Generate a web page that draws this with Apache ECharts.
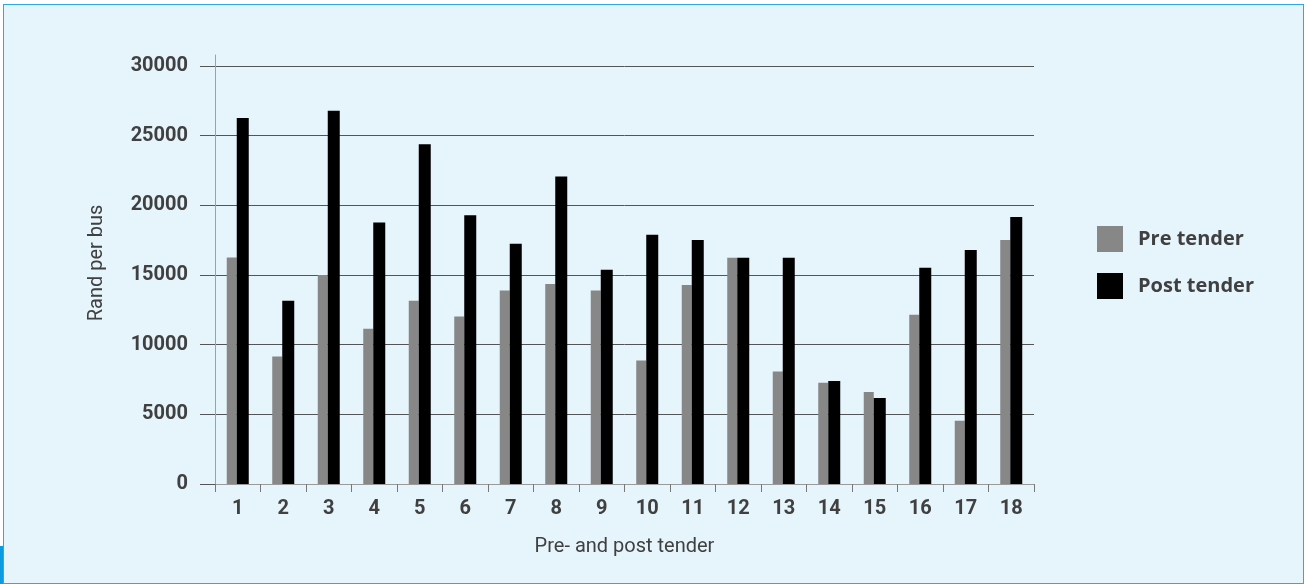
<!DOCTYPE html>
<html>
<head>
<meta charset="utf-8">
<title>Rand per bus, pre- and post tender</title>
<script src="https://cdn.jsdelivr.net/npm/echarts@6/dist/echarts.min.js"></script>
<style>
  html, body { margin: 0; padding: 0; background: #ffffff; }
  #frame {
    position: absolute; left: 3px; top: 4px;
    width: 1299px; height: 578px;
    border: 1px solid #2fa9e2;
    background: #e6f4fc;
  }
  #tab {
    position: absolute; left: 0; top: 546px;
    width: 3px; height: 38px;
    background: #0b9be0;
  }
  #chart { position: absolute; left: 0; top: 0; width: 1306px; height: 584px; }
</style>
</head>
<body>
<div id="frame"></div>
<div id="tab"></div>
<div id="chart"></div>
<script>
// Routes (contracts) numbered 1-18
const categories = ['1','2','3','4','5','6','7','8','9','10','11','12','13','14','15','16','17','18'];

// Rand per bus before the tender
const preTender = [16250, 9150, 15000, 11150, 13150, 12020, 13890, 14350, 13890, 8860, 14290, 16240, 8070, 7260, 6600, 12150, 4540, 17520];

// Rand per bus after the tender
const postTender = [26270, 13150, 26790, 18770, 24390, 19280, 17240, 22070, 15380, 17880, 17520, 16240, 16240, 7400, 6170, 15520, 16800, 19160];

const seriesNames = ['Pre tender', 'Post tender'];
const yTicks = { min: 0, max: 30000, step: 5000 };

const textColor = '#404040';
const labelFont = 'Roboto, "Liberation Sans", Arial, sans-serif';

const chart = echarts.init(document.getElementById('chart'), null, { renderer: 'canvas' });

chart.setOption({
  animation: false,
  backgroundColor: 'transparent',
  grid: [
    { left: 215, right: 272, top: 66, bottom: 100 },
    // taller twin grid that only carries the vertical axis line
    { left: 215, right: 272, top: 55, bottom: 100 }
  ],
  legend: {
    orient: 'vertical',
    left: 1097,
    top: 226,
    padding: 0,
    itemWidth: 26,
    itemHeight: 26,
    itemGap: 21,
    icon: 'rect',
    data: seriesNames,
    textStyle: {
      fontFamily: '"Open Sans", Roboto, sans-serif',
      fontSize: 20,
      fontWeight: 'bold',
      color: textColor,
      padding: [0, 0, 0, 10]
    }
  },
  xAxis: [
    {
      type: 'category',
      gridIndex: 0,
      data: categories,
      boundaryGap: true,
      axisLine: { show: true, lineStyle: { color: '#9a9a9a', width: 1 } },
      axisTick: { show: true, length: 8, lineStyle: { color: '#777777' } },
      axisLabel: {
        margin: 15,
        fontFamily: labelFont,
        fontSize: 20,
        fontWeight: 'bold',
        color: textColor
      },
      name: 'Pre- and post tender',
      nameLocation: 'middle',
      nameGap: 53,
      nameTextStyle: { fontFamily: labelFont, fontSize: 20, color: textColor }
    },
    { type: 'category', gridIndex: 1, data: categories, show: false }
  ],
  yAxis: [
    {
      type: 'value',
      gridIndex: 0,
      min: yTicks.min,
      max: yTicks.max,
      interval: yTicks.step,
      axisLine: { show: false },
      axisTick: { show: true, length: 15, lineStyle: { color: '#555555' } },
      splitLine: { show: true, lineStyle: { color: '#555555', width: 1 } },
      axisLabel: {
        margin: 27,
        fontFamily: labelFont,
        fontSize: 20,
        fontWeight: 'bold',
        color: textColor,
        formatter: (v) => String(v)
      },
      name: 'Rand per bus',
      nameLocation: 'middle',
      nameRotate: 90,
      nameGap: 108,
      nameTextStyle: {
        fontFamily: labelFont,
        fontSize: 20,
        color: textColor,
        padding: [0, 0, 0, 24]
      }
    },
    {
      type: 'value',
      gridIndex: 1,
      min: 0,
      max: 1,
      axisLine: { show: true, onZero: false, lineStyle: { color: '#a0a0a0', width: 1 } },
      axisTick: { show: false },
      axisLabel: { show: false },
      splitLine: { show: false }
    }
  ],
  series: [
    {
      name: seriesNames[0],
      type: 'bar',
      xAxisIndex: 0,
      yAxisIndex: 0,
      data: preTender,
      barWidth: 10,
      barGap: '0%',
      itemStyle: { color: '#878787' }
    },
    {
      name: seriesNames[1],
      type: 'bar',
      xAxisIndex: 0,
      yAxisIndex: 0,
      data: postTender,
      barWidth: 12,
      barGap: '0%',
      itemStyle: { color: '#000000' }
    }
  ]
});
</script>
</body>
</html>
